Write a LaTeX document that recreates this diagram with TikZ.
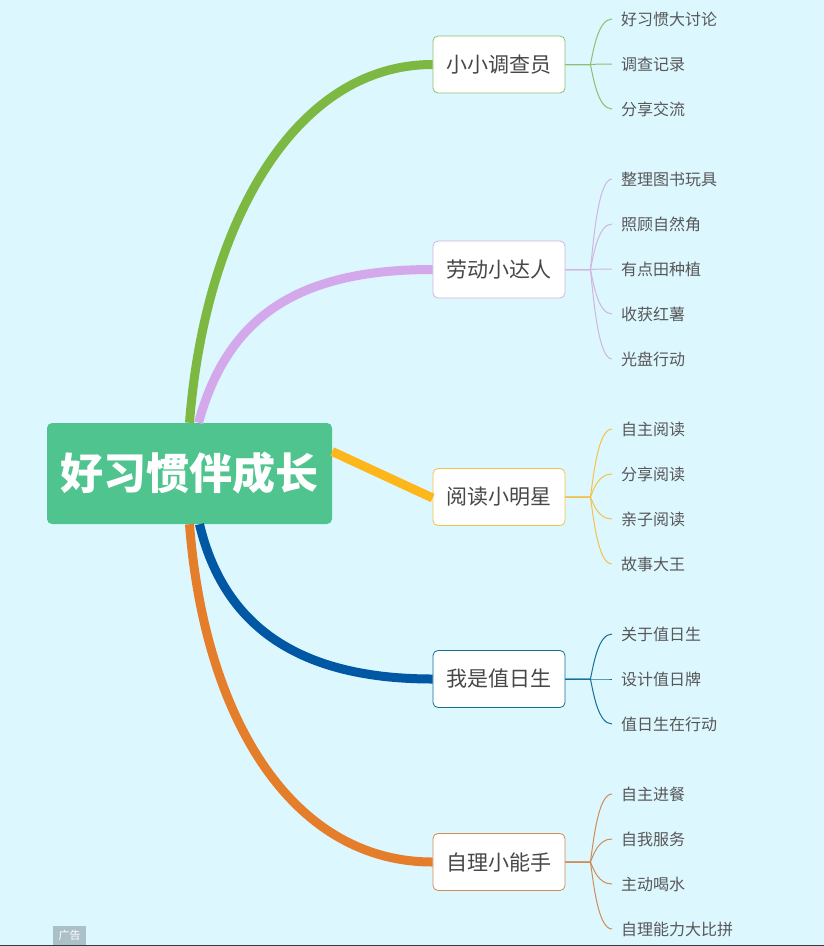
\documentclass[tikz,border=0pt]{standalone}
\usepackage{fontspec}
\setmainfont{Noto Sans CJK SC}
\definecolor{bgc}{HTML}{DDF7FF}
\definecolor{rootc}{HTML}{4FC48E}
\definecolor{gA}{HTML}{7DB843}\definecolor{gB}{HTML}{8CC070}
\definecolor{pA}{HTML}{D4A9EB}\definecolor{pB}{HTML}{CFB5DF}
\definecolor{yA}{HTML}{FDB71A}\definecolor{yB}{HTML}{F3C24A}
\definecolor{bA}{HTML}{0057A3}\definecolor{bB}{HTML}{146E96}
\definecolor{oA}{HTML}{E57E2B}\definecolor{oB}{HTML}{CF8C55}
\tikzset{
  x=1pt,y=-1pt,
  rootbox/.style={fill=rootc,rounded corners=5pt,minimum width=285pt,minimum height=101pt,inner sep=0pt,text=white,font=\fontsize{43}{43}\selectfont\bfseries},
  branchbox/.style={draw=#1,fill=white,line width=0.8pt,rounded corners=5pt,minimum width=132pt,minimum height=57pt,inner sep=0pt,text=black!72,font=\fontsize{21}{21}\selectfont},
  leafnode/.style={anchor=west,inner xsep=9pt,inner ysep=0pt,text=black!66,font=\fontsize{16}{16}\selectfont},
  trunk/.style={draw=#1,line width=9pt},
  twig/.style={draw=#1,line width=1pt},
}
\newcommand{\twigs}[3]{% branch, colour, list of leaves
  \foreach \lf in {#3}{
    \path (#1.east) ++(25,0) coordinate (#1j);
    \draw[twig=#2] (#1.east) -- (#1j) .. controls ($(#1j)!0.3!(#1j |- \lf.west)+(3,0)$) and ($(\lf.west)+(-14,0)$) .. (\lf.west);
  }}
\usetikzlibrary{calc}
\begin{document}
\begin{tikzpicture}
\useasboundingbox (0,0) rectangle (824,946);
\fill[bgc] (0,0) rectangle (824,946);
\fill[black!75!bgc] (0,945) rectangle (824,946);
\node[rootbox] (root) at (189.5,473.5) {好习惯伴成长};
\node[branchbox=gB] (b1) at (499,64.5) {小小调查员};
\node[branchbox=pB] (b2) at (499,269.5) {劳动小达人};
\node[branchbox=yB] (b3) at (499,497) {阅读小明星};
\node[branchbox=bB] (b4) at (499,679) {我是值日生};
\node[branchbox=oB] (b5) at (499,862) {自理小能手};
\node[leafnode] (a1) at (612,19) {好习惯大讨论};
\node[leafnode] (a2) at (612,64) {调查记录};
\node[leafnode] (a3) at (612,109) {分享交流};
\node[leafnode] (c1) at (612,179) {整理图书玩具};
\node[leafnode] (c2) at (612,224) {照顾自然角};
\node[leafnode] (c3) at (612,269) {有点田种植};
\node[leafnode] (c4) at (612,314) {收获红薯};
\node[leafnode] (c5) at (612,359) {光盘行动};
\node[leafnode] (d1) at (612,429) {自主阅读};
\node[leafnode] (d2) at (612,474) {分享阅读};
\node[leafnode] (d3) at (612,519) {亲子阅读};
\node[leafnode] (d4) at (612,564) {故事大王};
\node[leafnode] (e1) at (612,634) {关于值日生};
\node[leafnode] (e2) at (612,679) {设计值日牌};
\node[leafnode] (e3) at (612,724) {值日生在行动};
\node[leafnode] (f1) at (612,794) {自主进餐};
\node[leafnode] (f2) at (612,839) {自我服务};
\node[leafnode] (f3) at (612,884) {主动喝水};
\node[leafnode] (f4) at (612,929) {自理能力大比拼};
\draw[trunk=gA] (root.north) .. controls +(15,-195) and +(-140,0) .. (b1.west);
\draw[trunk=pA] ([xshift=9]root.north) .. controls +(30,-110) and +(-130,0) .. (b2.west);
\draw[trunk=yA] ([yshift=22]root.east) -- ([yshift=-1]b3.west);
\draw[trunk=bA] ([xshift=10]root.south) .. controls +(25,105) and +(-130,0) .. (b4.west);
\draw[trunk=oA] (root.south) .. controls +(15,195) and +(-140,0) .. (b5.west);
\twigs{b1}{gB}{a1,a2,a3}
\twigs{b2}{pB}{c1,c2,c3,c4,c5}
\twigs{b3}{yB}{d1,d2,d3,d4}
\twigs{b4}{bB}{e1,e2,e3}
\twigs{b5}{oB}{f1,f2,f3,f4}
\node[fill=black!22!bgc,minimum width=33pt,minimum height=19pt,inner sep=0pt,text=white,font=\fontsize{11}{11}\selectfont] (ad) at (69.5,935.5) {广告};
\end{tikzpicture}
\end{document}
